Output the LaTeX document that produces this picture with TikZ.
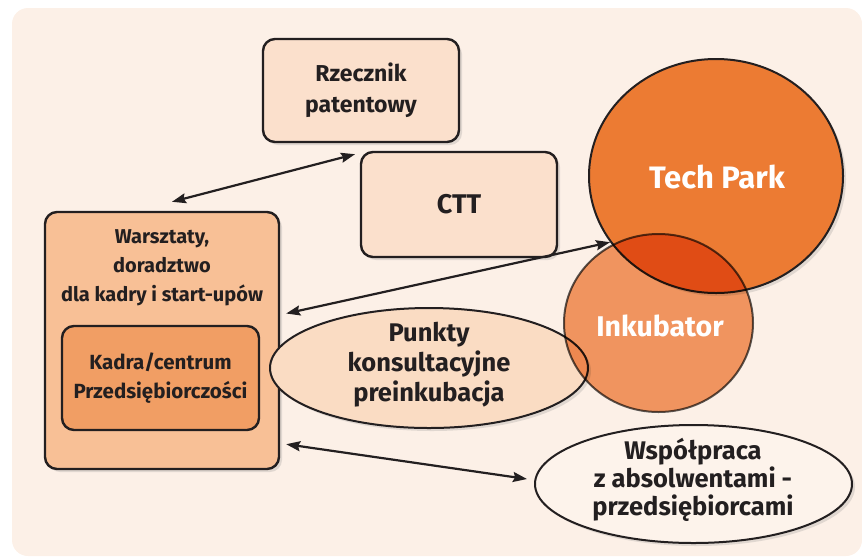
\documentclass[tikz,border=0pt]{standalone}
\usepackage{fontspec}
\setmainfont{Fira Sans}
\usetikzlibrary{shapes.geometric,shadows,arrows.meta}
\definecolor{tlo}{HTML}{FCF0E7}
\definecolor{tekst}{HTML}{231F20}
\definecolor{jasny}{HTML}{FBE0CC}
\definecolor{warsztatyfill}{HTML}{F8C096}
\definecolor{kadrafill}{HTML}{F19E64}
\definecolor{punktyfill}{HTML}{FADCC3}
\definecolor{techfill}{HTML}{EC7B33}
\definecolor{inkfill}{HTML}{F39E69}
\definecolor{wspolfill}{HTML}{FDF3EB}
\tikzset{
  cien/.style={drop shadow={opacity=0.22, shadow xshift=3pt, shadow yshift=-3pt}},
  pudelko/.style={draw=tekst, line width=2.4pt, rounded corners=12pt, fill=jasny, align=center, text=tekst},
  owal/.style={ellipse, draw=tekst, line width=2pt, inner sep=0pt},
  opis/.style={align=center, text=tekst, font=\fontsize{20}{29}\selectfont\bfseries},
  strzalka/.style={tekst, line width=2.2pt, {Stealth[length=14pt,width=10pt,inset=2pt]}-{Stealth[length=14pt,width=10pt,inset=2pt]}}
}
\begin{document}
\begin{tikzpicture}[x=1pt,y=-1pt]
  \useasboundingbox (0,0) rectangle (862,558);
  \fill[tlo, rounded corners=16pt] (12,8) rectangle (862,556);

  \node[pudelko, cien, minimum width=196pt, minimum height=103pt, font=\fontsize{23}{31}\selectfont\bfseries] (rzecznik) at (361,90.5) {Rzecznik\\patentowy};
  \node[pudelko, cien, minimum width=196pt, minimum height=105pt, font=\fontsize{27}{30}\selectfont\bfseries] (ctt) at (459,204.5) {CTT};
  \node[pudelko, cien, fill=warsztatyfill, minimum width=234pt, minimum height=257pt] (warsztaty) at (162,340.5) {};
  \node[opis] (warsztatyopis) at (162,268) {Warsztaty,\\doradztwo\\dla kadry i start-upów};
  \node[pudelko, fill=kadrafill, minimum width=197pt, minimum height=104pt, font=\fontsize{20.5}{28.7}\selectfont\bfseries] (kadra) at (160.5,378) {Kadra/centrum\\Przedsiębiorczości};

  \node[owal, cien, fill=punktyfill, minimum width=318pt, minimum height=120pt] (punkty) at (429,368) {};
  \node[opis, font=\fontsize{25.5}{30}\selectfont\bfseries] (punktyopis) at (429,365) {Punkty\\konsultacyjne\\preinkubacja};
  \node[owal, cien, fill=techfill, minimum width=254pt, minimum height=234pt] (techpark) at (716,176) {};
  \begin{scope}[blend mode=multiply]
    \node[owal, fill=inkfill, draw=black!65, minimum width=189pt, minimum height=178pt] (inkubator) at (658.5,323) {};
  \end{scope}
  \node[opis, text=white, font=\fontsize{31}{36}\selectfont\bfseries] (techparkopis) at (717,177) {Tech Park};
  \node[opis, text=white, font=\fontsize{28.5}{34}\selectfont\bfseries] (inkubatoropis) at (660,326) {Inkubator};
  \node[owal, cien, fill=wspolfill, minimum width=317pt, minimum height=118pt] (wspolpraca) at (693.5,484) {};
  \node[opis, font=\fontsize{25.5}{28}\selectfont\bfseries] (wspolpracaopis) at (693,480) {Współpraca\\z absolwentami -\\przedsiębiorcami};

  \draw[strzalka] ([shift={(10,-9)}]warsztaty.north) -- ([shift={(-6,11)}]rzecznik.south);
  \draw[strzalka] ([shift={(6,-27)}]warsztaty.east) -- (techpark.212);
  \draw[strzalka] ([shift={(6,-26)}]warsztaty.south east) -- ([shift={(-7,-5)}]wspolpraca.west);
\end{tikzpicture}
\end{document}
